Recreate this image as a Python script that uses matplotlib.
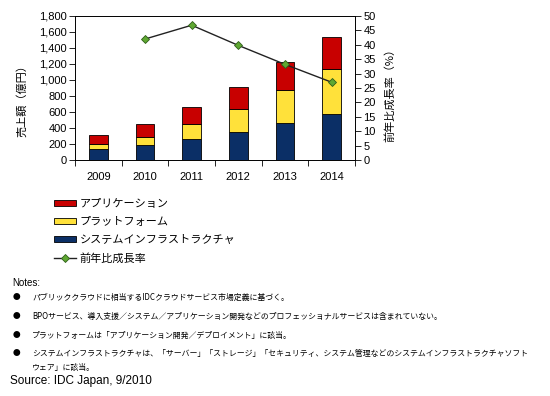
import numpy as np
import matplotlib
matplotlib.use("Agg")
import matplotlib.pyplot as plt
from matplotlib.patches import Patch
from matplotlib.lines import Line2D

plt.rcParams['font.family'] = ['Liberation Sans', 'Noto Sans CJK JP', 'DejaVu Sans']
JP = ['Noto Sans CJK JP', 'DejaVu Sans']

years = ['2009', '2010', '2011', '2012', '2013', '2014']
infra = [137, 183, 261, 353, 461, 581]
platform = [62, 103, 183, 282, 415, 552]
application = [116, 166, 216, 278, 344, 406]
growth = [np.nan, 42.0, 46.8, 39.8, 33.2, 27.0]

series_names = ['アプリケーション', 'プラットフォーム', 'システムインフラストラクチャ', '前年比成長率']

notes = [
    'パブリッククラウドに相当するIDCクラウドサービス市場定義に基づく。',
    'BPOサービス、導入支援／システム／アプリケーション開発などのプロフェッショナルサービスは含まれていない。',
    'プラットフォームは「アプリケーション開発／デプロイメント」に該当。',
    'システムインフラストラクチャは、「サーバー」「ストレージ」「セキュリティ、システム管理などのシステムインフラストラクチャソフト\nウェア」に該当。',
]

c_red = '#C80000'
c_yel = '#FFE13A'
c_blue = '#0B2F66'

fig = plt.figure(figsize=(5.5, 3.96), dpi=100)
ax = fig.add_axes([75/550, 1-160/396, 280/550, 144/396])

x = np.arange(len(years))
w = 0.4
b1 = np.array(infra)
b2 = b1 + np.array(platform)
ax.bar(x, infra, w, color=c_blue, edgecolor='black', linewidth=0.6)
ax.bar(x, platform, w, bottom=b1, color=c_yel, edgecolor='black', linewidth=0.6)
ax.bar(x, application, w, bottom=b2, color=c_red, edgecolor='black', linewidth=0.6)

ax.set_xlim(-0.5, len(years) - 0.5)
ax.set_ylim(0, 1800)
ax.set_yticks(np.arange(0, 1801, 200))
ax.set_yticklabels([f'{v:,}' for v in range(0, 1801, 200)])
ax.set_xticks(x)
ax.set_xticklabels(years)
ax.set_xticks(np.arange(-0.5, len(years)), minor=True)
ax.tick_params(axis='x', which='major', length=0, pad=9, labelsize=8)
ax.tick_params(axis='x', which='minor', length=4, width=0.6)
ax.tick_params(axis='y', length=4, width=0.6, labelsize=8, pad=2)
for s in ax.spines.values():
    s.set_linewidth(0.6)

ax2 = ax.twinx()
ax2.plot(x, growth, color='#222222', linewidth=1.0, marker='D', markersize=4.5,
         markerfacecolor='#5FA832', markeredgecolor='#2E5E18', markeredgewidth=0.6)
ax2.set_ylim(0, 50)
ax2.set_yticks(np.arange(0, 51, 5))
ax2.tick_params(axis='y', length=4, width=0.6, labelsize=8, pad=2)
for s in ax2.spines.values():
    s.set_linewidth(0.6)

fig.text(22/550, 1-98/396, '売上額（億円）', rotation=90, ha='center', va='center',
         fontsize=8, family=JP)
fig.text(390/550, 1-92/396, '前年比成長率（%）', rotation=90, ha='center', va='center',
         fontsize=8, family=JP)

handles = [
    Patch(facecolor=c_red, edgecolor='black', linewidth=0.6),
    Patch(facecolor=c_yel, edgecolor='black', linewidth=0.6),
    Patch(facecolor=c_blue, edgecolor='black', linewidth=0.6),
    Line2D([], [], color='#222222', linewidth=1.0, marker='D', markersize=4,
           markerfacecolor='#5FA832', markeredgecolor='#2E5E18', markeredgewidth=0.6),
]
fig.legend(handles, series_names, loc='upper left', bbox_to_anchor=(54/550, 1-199/396),
           frameon=False, prop={'family': JP, 'size': 8}, handlelength=2.0, handleheight=0.55,
           labelspacing=0.72, handletextpad=0.3, borderaxespad=0, borderpad=0)

fig.text(12/550, 1-283/396, 'Notes:', fontsize=7, va='center')
ys = [297, 316, 335, 353]
for yy, t in zip(ys, notes):
    fig.text(13/550, 1-yy/396, '●', fontsize=5.5, va='center', ha='left', family=JP)
    fig.text(32/550, 1-(yy-4)/396, t, fontsize=5.7, va='top', ha='left', family=JP,
             linespacing=1.75)
fig.text(10/550, 1-381/396, 'Source: IDC Japan, 9/2010', fontsize=8.5, va='center')

fig.savefig('out.png', dpi=100)
